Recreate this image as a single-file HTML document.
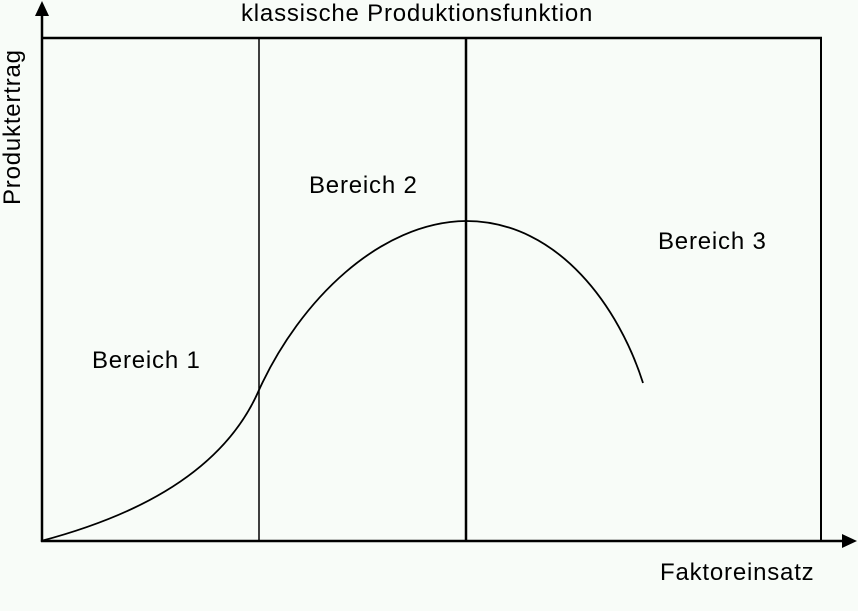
<!DOCTYPE html>
<html><head><style>
html,body{margin:0;padding:0;background:#f8fcf8;}
svg{display:block;}
text{font-family:"Liberation Sans",sans-serif;font-size:24px;letter-spacing:0.8px;fill:#000;}
</style></head><body>
<svg width="858" height="611" viewBox="0 0 858 611" xmlns="http://www.w3.org/2000/svg">
<rect width="858" height="611" fill="#f8fcf8"/>
<g stroke="#000" fill="none">
<line x1="42" y1="14" x2="42" y2="542" stroke-width="2.5"/>
<line x1="41" y1="541" x2="846" y2="541" stroke-width="2.5"/>
<line x1="42" y1="38" x2="822" y2="38" stroke-width="2.5"/>
<line x1="821" y1="38" x2="821" y2="541" stroke-width="2"/>
<line x1="259" y1="38" x2="259" y2="541" stroke-width="1.5"/>
<line x1="466" y1="38" x2="466" y2="541" stroke-width="2.5"/>
<path d="M41,541 C120,520 220,480 259,390 C300,300 380,222 466,221 C560,221 620,310 643,383" stroke-width="1.8"/>
</g>
<polygon points="42,1 35,16 49,16" fill="#000"/>
<polygon points="857,541 842,534 842,548" fill="#000"/>
<text x="241" y="21">klassische Produktionsfunktion</text>
<text x="309" y="193">Bereich 2</text>
<text x="658" y="249">Bereich 3</text>
<text x="92" y="368">Bereich 1</text>
<text x="660" y="580">Faktoreinsatz</text>
<text transform="translate(20,205) rotate(-90)">Produktertrag</text>
</svg>
</body></html>
